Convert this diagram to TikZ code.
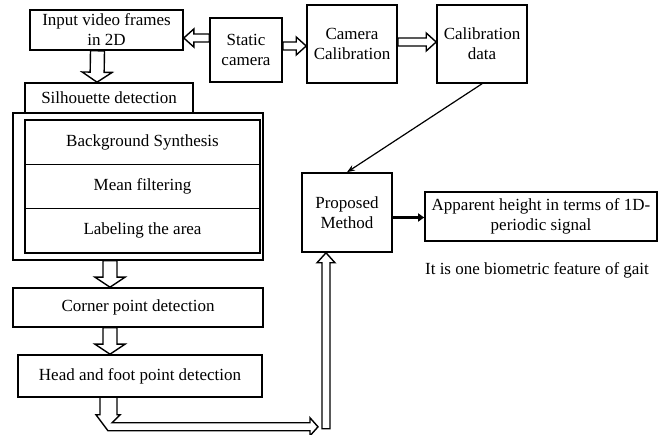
\documentclass[tikz,border=0pt]{standalone}
\usepackage{fontspec}
\setmainfont{Liberation Serif}
\usetikzlibrary{arrows.meta,calc}

\begin{document}
\begin{tikzpicture}[y=-1pt,x=1pt,
	box/.style={draw, line width=1.6pt, inner sep=0pt, align=center, font=\fontsize{17}{20}\selectfont},
	hollow/.style={draw, line width=1.4pt, line join=miter}]
	\newcommand\Hollow[3][7]{%
		\draw[hollow] let \p1=(#2), \p2=(#3),
			\n1={veclen(\x2-\x1,\y2-\y1)}, \n2={atan2(\y2-\y1,\x2-\x1)} in
			[shift={(\p1)}, rotate=\n2]
			(0pt,-#1pt) -- (\n1-10pt,-#1pt) -- (\n1-10pt,-2*#1pt-1pt) -- (\n1,0pt)
			-- (\n1-10pt,2*#1pt+1pt) -- (\n1-10pt,#1pt) -- (0pt,#1pt) -- cycle;}

	\useasboundingbox (0,0) rectangle (670,435);

	% top row
	\node[box, minimum width=153pt, minimum height=40pt] (in) at (106.5,30) {Input video frames\\in 2D};
	\node[box, minimum width=72pt, minimum height=64pt] (cam) at (246,50) {Static\\camera};
	\node[box, minimum width=90pt, minimum height=78pt] (calib) at (352,44) {Camera\\Calibration};
	\node[box, minimum width=90pt, minimum height=78pt] (data) at (482,44) {Calibration\\data};

	% silhouette block
	\node[box, minimum width=168pt, minimum height=30pt] (sil) at (109,98) {Silhouette detection};
	\node[box, minimum width=250pt, minimum height=147pt] (silbox) at (138,186.5) {};
	\node[box, minimum width=235pt, minimum height=44.3pt] (bg) at (142.5,142.2) {Background Synthesis};
	\node[box, minimum width=235pt, minimum height=44.3pt] (mean) at (142.5,186.5) {Mean filtering};
	\node[box, minimum width=235pt, minimum height=44.3pt] (label) at (142.5,230.8) {Labeling the area};

	\node[box, minimum width=250pt, minimum height=39pt] (corner) at (138,307.5) {Corner point detection};
	\node[box, minimum width=244pt, minimum height=42pt] (head) at (140,376) {Head and foot point detection};

	% right side
	\node[box, minimum width=90pt, minimum height=79pt] (prop) at (347,212.5) {Proposed\\Method};
	\node[box, minimum width=232pt, minimum height=49pt] (app) at (541,216.5) {Apparent height in terms of 1D-\\periodic signal};
	\node[font=\fontsize{17}{20}\selectfont] (gait) at (537,270) {It is one biometric feature of gait};

	% hollow arrows
	\Hollow{$(in.south)+(-9,0)$}{$(sil.north)+(-12,0)$}
	\Hollow[4]{$(cam.west)+(0,-12)$}{$(in.east)+(0,8)$}
	\Hollow[4]{$(cam.east)+(0,-4)$}{$(calib.west)+(0,2)$}
	\Hollow[4]{$(calib.east)+(0,-2)$}{$(data.west)+(0,-2)$}
	\Hollow{$(silbox.south)+(-28,0)$}{$(corner.north)+(-28,0)$}
	\Hollow{$(corner.south)+(-28,0)$}{$(head.north)+(-30,0)$}

	\draw[hollow, shift={(head.south)}] (-40,0) -- (-40,17) -- (-44,17) -- (-32,33) -- (170,33)
		-- (170,38) -- (178,29) -- (170,20) -- (170,25) -- (-28,25) -- (-20,17) -- (-23,17) -- (-23,0);
	\coordinate (turn) at ($(prop.south)+(-21,176)$);
	\Hollow[4]{turn}{$(prop.south)+(-21,0)$}

	% plain arrows
	\draw[line width=1.2pt, -{Stealth[length=8pt,width=6pt]}] (data.south) -- (prop.north);
	\draw[line width=3pt, -{Triangle[length=6pt,width=8pt]}] ($(prop.east)+(0,5)$) -- ($(app.west)+(0,1)$);
\end{tikzpicture}
\end{document}
